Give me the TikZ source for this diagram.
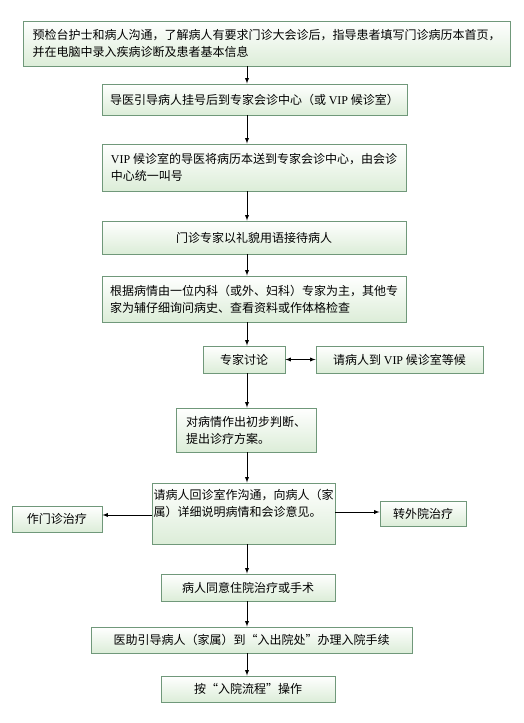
\documentclass[tikz,border=0pt]{standalone}
\usepackage{fontspec}
\setmainfont{Noto Sans CJK SC}
\newfontfamily\latinfont{Liberation Serif}
\usetikzlibrary{arrows}
\usetikzlibrary{calc}

\definecolor{boxline}{RGB}{112,152,122}
\definecolor{boxfill}{RGB}{220,237,216}
\newcommand{\vip}{{\latinfont VIP}}

\begin{document}
\begin{tikzpicture}[>=latex, x=1pt, y=-1pt,
  box/.style={draw=boxline, line width=0.9pt, top color=white, bottom color=boxfill,
    font=\fontsize{12}{17}\selectfont, inner xsep=6pt, inner ysep=3pt},
  flow/.style={->, line width=0.9pt}]

% background
\fill[white] (0,0) rectangle (523,723);
\useasboundingbox (0,0) rectangle (523,723);

% main column
\coordinate (col) at (247,0);

\node[box, minimum width=487, minimum height=45, align=left] (b1) at (266.5,43.5)
  {预检台护士和病人沟通，了解病人有要求门诊大会诊后，指导患者填写门诊病历本首页，\\
   并在电脑中录入疾病诊断及患者基本信息};
\node[box, minimum width=305, minimum height=31] (b2) at (254.5,99.5)
  {导医引导病人挂号后到专家会诊中心（或 \vip{} 候诊室）};
\node[box, minimum width=304, minimum height=47, align=left] (b3) at (254,167.5)
  {\vip{} 候诊室的导医将病历本送到专家会诊中心，由会诊\\中心统一叫号};
\node[box, minimum width=304, minimum height=33] (b4) at (254,237.5)
  {门诊专家以礼貌用语接待病人};
\node[box, minimum width=304, minimum height=46, align=left] (b5) at (254,299)
  {根据病情由一位内科（或外、妇科）专家为主，其他专\\家为辅仔细询问病史、查看资料或作体格检查};

% discussion
\node[box, minimum width=82, minimum height=27] (b6) at (244,359.5) {专家讨论};
\node[box, minimum width=167, minimum height=27] (b7) at (399.5,359.5)
  {请病人到 \vip{} 候诊室等候};
\node[box, minimum width=140, minimum height=44, align=left] (b8) at (246,430)
  {对病情作出初步判断、\\提出诊疗方案。};

% communication and branches
\node[box, minimum width=183, minimum height=61, align=left, inner xsep=1.5pt] (b9) at (243.5,513.5)
  {请病人回诊室作沟通，向病人（家\\属）详细说明病情和会诊意见。\\ \strut};
\node[box, minimum width=90, minimum height=26] (b10) at (57,519) {作门诊治疗};
\node[box, minimum width=86, minimum height=25] (b11) at (423,513.5) {转外院治疗};
\coordinate (l9) at ($(b9.west)+(0,1.5)$);
\coordinate (r9) at ($(b9.east)+(0,-1.5)$);

% admission
\node[box, minimum width=174, minimum height=27] (b12) at (248,587.5)
  {病人同意住院治疗或手术};
\node[box, minimum width=321, minimum height=26] (b13) at (251.5,640)
  {医助引导病人（家属）到“入出院处”办理入院手续};
\node[box, minimum width=174, minimum height=26] (b14) at (248,689)
  {按“入院流程”操作};

% connectors
\draw[flow] (col |- b1.south) -- (col |- b2.north);
\draw[flow] (col |- b2.south) -- (col |- b3.north);
\draw[flow] (col |- b3.south) -- (col |- b4.north);
\draw[flow] (col |- b4.south) -- (col |- b5.north);
\draw[flow] (col |- b5.south) -- (col |- b6.north);
\draw[<->, line width=0.9pt] (b6.east) -- (b7.west);
\draw[flow] (col |- b6.south) -- (col |- b8.north);
\draw[flow] (col |- b8.south) -- (col |- b9.north);
\draw[flow] (l9) -- (l9 -| b10.east);
\draw[flow] (r9) -- (r9 -| b11.west);
\draw[flow] (col |- b9.south) -- (col |- b12.north);
\draw[flow] (col |- b12.south) -- (col |- b13.north);
\draw[flow] (col |- b13.south) -- (col |- b14.north);

\end{tikzpicture}
\end{document}
